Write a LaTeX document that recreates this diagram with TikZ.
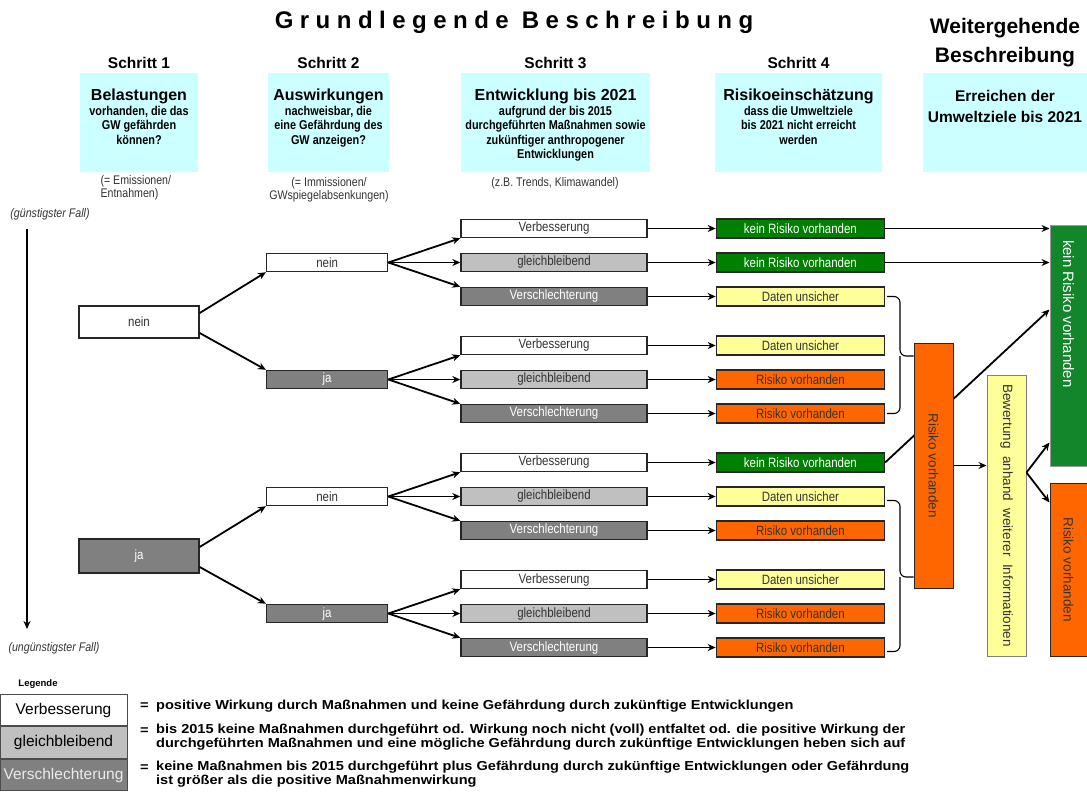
\documentclass[tikz,border=0pt]{standalone}
\usepackage{fontspec}
\setmainfont{Liberation Sans}
\newfontfamily\narrowfont[FakeStretch=0.85]{Liberation Sans}
\newfontfamily\widefont[FakeStretch=1.12]{Liberation Sans}
\newfontfamily\spacedfont[LetterSpace=27]{Liberation Sans}
\usetikzlibrary{positioning,arrows.meta}

\definecolor{headcyan}{HTML}{CCFFFF}
\definecolor{midgray}{HTML}{C0C0C0}
\definecolor{dgray}{HTML}{808080}
\definecolor{okgreen}{HTML}{008000}
\definecolor{bigok}{HTML}{13862B}
\definecolor{unsure}{HTML}{FFFF99}
\definecolor{risk}{HTML}{FF6600}
\definecolor{inkgray}{HTML}{333333}

\tikzset{
  box/.style={draw=black!85, line width=1.4pt, rectangle, inner sep=0pt, text=inkgray, font=\narrowfont\fontsize{13.5}{15}\selectfont},
  devbox/.style={box, minimum width=186pt, minimum height=18pt},
  riskbox/.style={box, minimum width=168pt, minimum height=19pt},
  askbox/.style={box, minimum width=121pt, minimum height=18pt},
  better/.style={fill=white},
  same/.style={fill=midgray},
  worse/.style={fill=dgray, text=white},
  norisk/.style={fill=okgreen, text=white},
  unsafe/.style={fill=unsure},
  isrisk/.style={fill=risk},
  tallbox/.style={box, line width=1pt, font=\fontsize{13.5}{16}\selectfont},
  headbox/.style={rectangle, fill=headcyan, minimum height=99pt, inner sep=0pt},
  headtext/.style={anchor=north, yshift=-13pt, align=center, font=\narrowfont\bfseries\fontsize{12.8}{14.5}\selectfont},
  steptext/.style={anchor=south, yshift=1pt, font=\bfseries\fontsize{15.5}{18}\selectfont},
  note/.style={text=inkgray, font=\narrowfont\fontsize{12.5}{13}\selectfont},
  legbox/.style={draw=black!70, line width=1pt, rectangle, inner sep=0pt, minimum width=127pt, minimum height=31.5pt, font=\fontsize{15.5}{18}\selectfont},
  legtext/.style={inner sep=0pt, align=left, font=\widefont\bfseries\fontsize{13}{13.5}\selectfont},
  arr/.style={-{Stealth[length=8pt,width=7pt]}, line width=1.8pt},
  bracket/.style={line width=1.1pt, rounded corners=6pt},
}

\begin{document}
\begin{tikzpicture}[x=1pt, y=-1pt, node distance=34pt]
\useasboundingbox (0,0) rectangle (1087,793);
% Titel
\node[font=\spacedfont\bfseries\fontsize{24}{28}\selectfont] (title) at (514,22) {Grundlegende Beschreibung};
% Schritte
\node[headbox, minimum width=118pt, label={[steptext]north:Schritt 1}, label={[headtext]north:{\normalfont\bfseries\fontsize{16}{19}\selectfont Belastungen}\\vorhanden, die das\\GW gefährden\\können?}] (step1) at (139,122.5) {};
\node[headbox, minimum width=121pt, label={[steptext]north:Schritt 2}, label={[headtext]north:{\normalfont\bfseries\fontsize{16}{19}\selectfont Auswirkungen}\\nachweisbar, die\\eine Gefährdung des\\GW anzeigen?}] (step2) at (328.5,122.5) {};
\node[headbox, minimum width=189pt, label={[steptext]north:Schritt 3}, label={[headtext]north:{\normalfont\bfseries\fontsize{16}{19}\selectfont Entwicklung bis 2021}\\aufgrund der bis 2015\\durchgeführten Maßnahmen sowie\\zukünftiger anthropogener\\Entwicklungen}] (step3) at (555.5,122.5) {};
\node[headbox, minimum width=167pt, label={[steptext]north:Schritt 4}, label={[headtext]north:{\normalfont\bfseries\fontsize{16}{19}\selectfont Risikoeinschätzung}\\dass die Umweltziele\\bis 2021 nicht erreicht\\werden}] (step4) at (798.5,122.5) {};
\node[headbox, minimum width=164pt, label={[anchor=south, yshift=2pt, align=center, font=\bfseries\fontsize{21}{29}\selectfont]north:Weitergehende\\Beschreibung}, label={[anchor=north, yshift=-14pt, align=center, font=\bfseries\fontsize{15.5}{21}\selectfont]north:Erreichen der\\Umweltziele bis 2021}] (step5) at (1005,122.5) {};
% Hinweise
\node[note, anchor=west, align=left] (note1) at (97,188) {(= Emissionen/\\Entnahmen)};
\node[note, align=center] (note2) at (329,190) {(= Immissionen/\\GWspiegelabsenkungen)};
\node[note] (note3) at (555,183) {(z.B. Trends, Klimawandel)};
% Fall
\node[note, font=\narrowfont\itshape\fontsize{12.5}{14}\selectfont] (best-txt) at (50,214) {(günstigster Fall)};
\node[note, font=\narrowfont\itshape\fontsize{12.5}{14}\selectfont] (worst-txt) at (54,648) {(ungünstigster Fall)};
\coordinate (best) at (27,229);
\coordinate (worst) at (27,629);
\draw[arr] (best) -- (worst);
% Entwicklung
\node[devbox, better] (e1) at (554,228.5) {Verbesserung};
\node[devbox, same, below of=e1] (e2) {gleichbleibend};
\node[devbox, worse, below of=e2] (e3) {Verschlechterung};
\node[devbox, better, below of=e3, yshift=-15pt] (e4) {Verbesserung};
\node[devbox, same, below of=e4] (e5) {gleichbleibend};
\node[devbox, worse, below of=e5] (e6) {Verschlechterung};
\node[devbox, better, below of=e6, yshift=-15pt] (e7) {Verbesserung};
\node[devbox, same, below of=e7] (e8) {gleichbleibend};
\node[devbox, worse, below of=e8] (e9) {Verschlechterung};
\node[devbox, better, below of=e9, yshift=-15pt] (e10) {Verbesserung};
\node[devbox, same, below of=e10] (e11) {gleichbleibend};
\node[devbox, worse, below of=e11] (e12) {Verschlechterung};
% Risiko
\node[riskbox, norisk, right=68pt of e1] (r1) {kein Risiko vorhanden};
\node[riskbox, norisk, right=68pt of e2] (r2) {kein Risiko vorhanden};
\node[riskbox, unsafe, right=68pt of e3] (r3) {Daten unsicher};
\node[riskbox, unsafe, right=68pt of e4] (r4) {Daten unsicher};
\node[riskbox, isrisk, right=68pt of e5] (r5) {Risiko vorhanden};
\node[riskbox, isrisk, right=68pt of e6] (r6) {Risiko vorhanden};
\node[riskbox, norisk, right=68pt of e7] (r7) {kein Risiko vorhanden};
\node[riskbox, unsafe, right=68pt of e8] (r8) {Daten unsicher};
\node[riskbox, isrisk, right=68pt of e9] (r9) {Risiko vorhanden};
\node[riskbox, unsafe, right=68pt of e10] (r10) {Daten unsicher};
\node[riskbox, isrisk, right=68pt of e11] (r11) {Risiko vorhanden};
\node[riskbox, isrisk, right=68pt of e12] (r12) {Risiko vorhanden};
% Auswirkungen und Belastungen
\node[askbox, better, left=72pt of e2] (a1) {nein};
\node[askbox, worse, left=72pt of e5] (a2) {ja};
\node[askbox, better, left=72pt of e8] (a3) {nein};
\node[askbox, worse, left=72pt of e11] (a4) {ja};
\node[box, better, minimum width=120pt, minimum height=32pt] (b1) at (139,322) {nein};
\node[box, worse, minimum width=120pt, minimum height=34pt] (b2) at (139,556) {ja};
\draw[arr] ([yshift=9pt]b1.east) -- (a1.south west);
\draw[arr] ([yshift=-11pt]b1.east) -- (a2.north west);
\draw[arr] ([yshift=9pt]b2.east) -- (a3.south west);
\draw[arr] ([yshift=-11pt]b2.east) -- (a4.north west);
\draw[arr] (a1.east) -- (e1.south west);
\draw[arr] (a1.east) -- (e2.west);
\draw[arr] (a1.east) -- (e3.north west);
\draw[arr] (a2.east) -- (e4.south west);
\draw[arr] (a2.east) -- (e5.west);
\draw[arr] (a2.east) -- (e6.north west);
\draw[arr] (a3.east) -- (e7.south west);
\draw[arr] (a3.east) -- (e8.west);
\draw[arr] (a3.east) -- (e9.north west);
\draw[arr] (a4.east) -- (e10.south west);
\draw[arr] (a4.east) -- (e11.west);
\draw[arr] (a4.east) -- (e12.north west);
\draw[arr] (e1) -- (r1);
\draw[arr] (e2) -- (r2);
\draw[arr] (e3) -- (r3);
\draw[arr] (e4) -- (r4);
\draw[arr] (e5) -- (r5);
\draw[arr] (e6) -- (r6);
\draw[arr] (e7) -- (r7);
\draw[arr] (e8) -- (r8);
\draw[arr] (e9) -- (r9);
\draw[arr] (e10) -- (r10);
\draw[arr] (e11) -- (r11);
\draw[arr] (e12) -- (r12);
% Weitergehende Beschreibung
\node[tallbox, draw=black!40, fill=bigok, minimum width=37pt, minimum height=241pt, label={[anchor=north, yshift=-12pt, text=white, font=\fontsize{15}{18}\selectfont]north:\rotatebox{-90}{kein Risiko vorhanden}}] (ok) at (1068.5,345.5) {};
\node[tallbox, isrisk, minimum width=37pt, minimum height=173pt] (bad) at (1068.5,569.5) {\rotatebox{-90}{Risiko vorhanden}};
\draw[arr] (r1) -- (r1 -| ok.west);
\draw[arr] (r2) -- (r2 -| ok.west);
\draw[arr] (r7.east) -- ([yshift=36pt]ok.west);
\node[tallbox, isrisk, minimum width=39pt, minimum height=245pt] (sum) at (933.5,465.5) {\rotatebox{-90}{Risiko vorhanden}};
\node[tallbox, draw=black!50, unsafe, minimum width=39pt, minimum height=281pt] (check) at (1006.5,515.5) {\rotatebox{-90}{Bewertung\ \ anhand\ \ weiterer\ \ Informationen}};
\draw[arr] (sum.east) -- (sum.east -| check.west);
\coordinate (fork) at ([yshift=43pt]check.east);
\draw[arr] (fork) -- ([yshift=-97pt]ok.west);
\draw[arr] (fork) -- ([yshift=67pt]bad.west);
% Klammern
\coordinate (tip1) at (900,356);
\coordinate (tip2) at (900,577);
\draw[bracket] ([xshift=2pt]r3.east) -| (tip1) -- (tip1 -| sum.west);
\draw[bracket] ([xshift=2pt]r6.east) -| (tip1);
\draw[bracket] ([xshift=2pt,yshift=-4pt]r8.east) -| (tip2) -- (tip2 -| sum.west);
\draw[bracket] ([xshift=2pt,yshift=-4pt]r12.east) -| (tip2);
% Legende
\node[font=\bfseries\fontsize{9.5}{10}\selectfont] (legend) at (38,684) {Legende};
\node[legbox, fill=white, text=black] (leg-v) at (63.5,710) {Verbesserung};
\node[legbox, fill=midgray, text=black, below=0pt of leg-v] (leg-g) {gleichbleibend};
\node[legbox, fill=dgray, text=white!92!black, below=0pt of leg-g] (leg-s) {Verschlechterung};
\node[legtext, anchor=west] (eq1) at (140,706) {=};
\node[legtext, anchor=west] (txt1) at (156,706) {positive Wirkung durch Maßnahmen und keine Gefährdung durch zukünftige Entwicklungen};
\node[legtext, anchor=west] (eq2) at (140,731) {=};
\node[legtext, anchor=north west] (txt2) at (156,724) {bis 2015 keine Maßnahmen durchgeführt od. Wirkung noch nicht (voll) entfaltet od. die positive Wirkung der\\durchgeführten Maßnahmen und eine mögliche Gefährdung durch zukünftige Entwicklungen heben sich auf};
\node[legtext, anchor=west] (eq3) at (140,768) {=};
\node[legtext, anchor=north west] (txt3) at (156,761) {keine Maßnahmen bis 2015 durchgeführt plus Gefährdung durch zukünftige Entwicklungen oder Gefährdung\\ist größer als die positive Maßnahmenwirkung};
\end{tikzpicture}
\end{document}
